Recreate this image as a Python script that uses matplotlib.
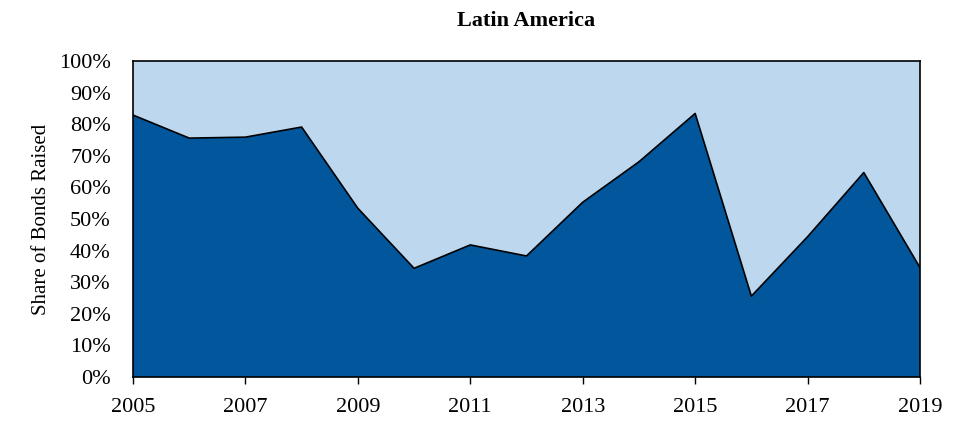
import matplotlib.pyplot as plt
from matplotlib.ticker import PercentFormatter

plt.rcParams['font.family'] = ['Liberation Serif', 'DejaVu Serif']

years = list(range(2005, 2020))
# share of bonds raised (dark series), the rest is the light series
share_a = [82.9, 75.6, 75.9, 79.1, 53.4, 34.4, 41.8, 38.3, 55.3, 68.1, 83.4, 25.6, 44.4, 64.7, 34.6]
share_b = [100 - v for v in share_a]

dark = '#02569B'
light = '#BDD7EE'

fig = plt.figure(figsize=(9.65, 4.25), dpi=100)
ax = fig.add_axes([0.1378, 0.1129, 0.8156, 0.7436])

ax.stackplot(years, share_a, share_b, colors=[dark, light])
ax.plot(years, share_a, color='black', lw=1.2)

ax.set_xlim(2005, 2019)
ax.set_ylim(0, 100)
ax.set_xticks(years[::2])
ax.set_yticks(range(0, 101, 10))
ax.yaxis.set_major_formatter(PercentFormatter(decimals=0))
ax.tick_params(axis='y', length=0, labelsize=16, pad=16)
ax.tick_params(axis='x', length=5, width=1, labelsize=16, direction='out', pad=10)
for s in ax.spines.values():
    s.set_linewidth(1.2)
    s.set_zorder(5)

ax.set_ylabel('Share of Bonds Raised', fontsize=15, labelpad=6)
ax.set_title('Latin America', fontsize=16, fontweight='bold', pad=25)

fig.savefig('out.png', dpi=100)
